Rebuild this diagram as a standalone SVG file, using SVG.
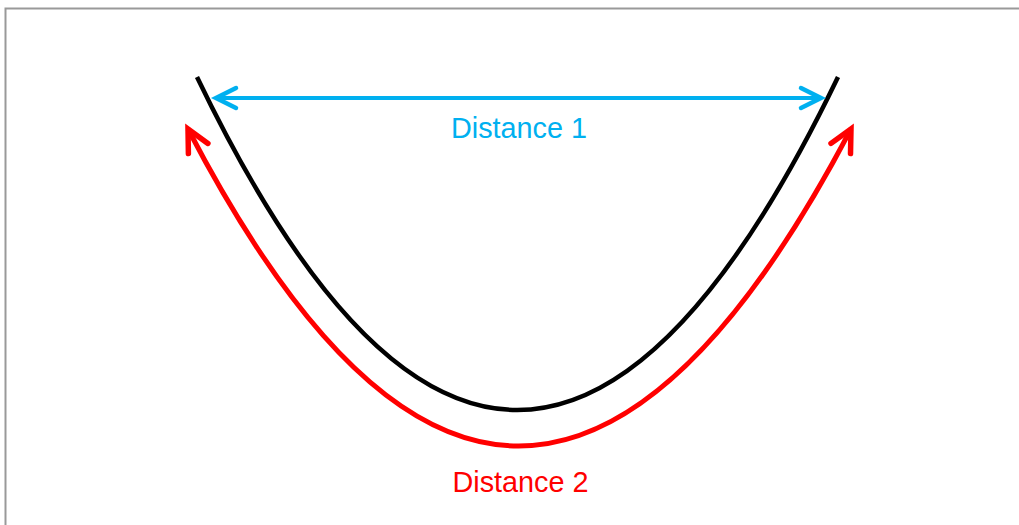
<svg xmlns="http://www.w3.org/2000/svg" width="1019" height="525" viewBox="0 0 1019 525">
<style>
.lbl{font-family:"Liberation Sans",Arial,sans-serif;font-size:28.8px;text-anchor:middle}
.curve{fill:none;stroke-linecap:butt}
</style>
<defs>
<marker id="headBlue" markerUnits="userSpaceOnUse" viewBox="-26 -14 30 28" refX="0" refY="0" markerWidth="30" markerHeight="28" orient="auto-start-reverse" overflow="visible">
<path d="M-20,-10 L0,0 L-20,10" fill="none" stroke="#00B0F0" stroke-width="4.5" stroke-linecap="round" stroke-linejoin="miter"/>
</marker>
<marker id="headRed" markerUnits="userSpaceOnUse" viewBox="-26 -14 30 28" refX="0" refY="0" markerWidth="30" markerHeight="28" orient="auto-start-reverse" overflow="visible">
<path d="M-22,-11 L0,0 L-22,11" fill="none" stroke="#FF0000" stroke-width="5.5" stroke-linecap="round" stroke-linejoin="miter"/>
</marker>
</defs>
<rect width="1019" height="525" fill="#ffffff"/>
<path d="M5.5,525 V8.5 H1019" fill="none" stroke="#999999" stroke-width="2"/>
<g id="bowl">
<path class="curve" d="M197,77 Q517,743 838,77" stroke="#000000" stroke-width="4.5"/>
</g>
<g id="connectors">
<path id="distance1-arrow" d="M216,98 H821" fill="none" stroke="#00B0F0" stroke-width="4" marker-start="url(#headBlue)" marker-end="url(#headBlue)"/>
<path id="distance2-arrow" class="curve" d="M188,129 Q518,763 851,129" stroke="#FF0000" stroke-width="5" marker-start="url(#headRed)" marker-end="url(#headRed)"/>
</g>
<g id="label1"><text class="lbl" x="519" y="138" fill="#00B0F0">Distance 1</text></g>
<g id="label2"><text class="lbl" x="520.5" y="492" fill="#FF0000">Distance 2</text></g>
</svg>
